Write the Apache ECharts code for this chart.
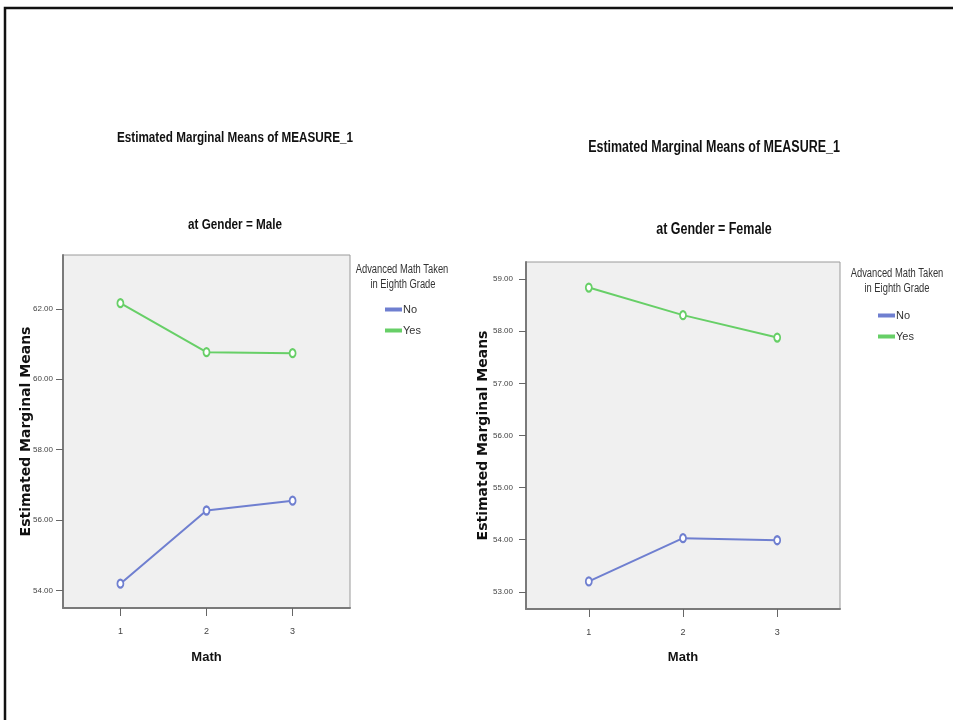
<!DOCTYPE html>
<html>
<head>
<meta charset="utf-8">
<script src="https://cdn.jsdelivr.net/npm/echarts@6/dist/echarts.min.js"></script>
<style>
  html, body { margin: 0; padding: 0; background: #fff; }
  #chart { width: 953px; height: 720px; }
</style>
</head>
<body>
<div id="chart"></div>
<script>
// Math levels on the x axis
const mathLevels = [1, 2, 3];
// Estimated marginal means, Male panel
const maleNo  = [54.19, 56.27, 56.55];
const maleYes = [62.16, 60.77, 60.74];
// Estimated marginal means, Female panel
const femaleNo  = [53.20, 54.03, 53.99];
const femaleYes = [58.84, 58.31, 57.88];
// Tick labels
const maleTicks = [54, 56, 58, 60, 62];
const femaleTicks = [53, 54, 55, 56, 57, 58, 59];

const BLUE = '#6f7fd0';
const GREEN = '#67cf67';
const SANS = "'Liberation Sans', Arial, sans-serif";
const NARROW_SCALE = 0.78;   // condensed look for the headings

const pairs = (ys) => mathLevels.map((x, i) => [x, ys[i]]);

function xAxis(gridIndex, gap) {
  return {
    type: 'value', gridIndex, min: 1/3, max: 11/3,
    name: 'Math', nameLocation: 'middle', nameGap: gap, nameMoveOverlap: false,
    nameTextStyle: { fontFamily: SANS, fontWeight: 'bold', fontSize: 13, color: '#111' },
    axisLine: { show: true, lineStyle: { color: '#7a7a7a', width: 2 } },
    axisTick: { show: true, customValues: mathLevels, length: 8, lineStyle: { color: '#666' } },
    axisLabel: { customValues: mathLevels, margin: 19, fontFamily: SANS, fontSize: 9, color: '#444' },
    splitLine: { show: false }
  };
}
function yAxis(gridIndex, min, max, ticks, gap, margin) {
  return {
    type: 'value', gridIndex, min, max,
    name: 'Estimated Marginal Means', nameLocation: 'middle', nameGap: gap, nameMoveOverlap: false,
    nameTextStyle: { fontFamily: "'DejaVu Sans', sans-serif", fontWeight: 'bold', fontSize: 14, color: '#111' },
    axisLine: { show: true, lineStyle: { color: '#7a7a7a', width: 2 } },
    axisTick: { show: true, customValues: ticks, length: 7, lineStyle: { color: '#666' } },
    axisLabel: { customValues: ticks, margin, fontFamily: SANS, fontSize: 8, color: '#444',
                 formatter: (v) => v.toFixed(2) },
    splitLine: { show: false }
  };
}
function line(name, data, color, xi) {
  return {
    type: 'line', name, data, xAxisIndex: xi, yAxisIndex: xi,
    symbol: 'emptyCircle', symbolSize: [6, 8],
    lineStyle: { color, width: 2 },
    itemStyle: { color, borderColor: color, borderWidth: 1.5 },
    emphasis: { disabled: true }, animation: false
  };
}
function legendBlock(left, top) {
  return {
    orient: 'vertical', left, top, itemGap: 10,
    itemWidth: 15, itemHeight: 2, icon: 'rect',
    selectedMode: false,
    data: [{ name: 'No', itemStyle: { color: BLUE } }, { name: 'Yes', itemStyle: { color: GREEN } }],
    textStyle: { fontFamily: SANS, fontSize: 11, color: '#333', padding: [0, 0, 0, -3] }
  };
}
function text(x, y, s, size, weight) {
  return { type: 'text', x, y, scaleX: NARROW_SCALE,
           style: { text: s, fontSize: size, fontWeight: weight, fontFamily: SANS,
                    fill: weight === 'bold' ? '#111' : '#333', textAlign: 'center', textVerticalAlign: 'middle' } };
}

const chart = echarts.init(document.getElementById('chart'), null, { renderer: 'canvas' });
chart.setOption({
  animation: false,
  backgroundColor: '#fff',
  grid: [
    { left: 63, top: 255, width: 287, height: 353, show: true, backgroundColor: '#f0f0f0', borderColor: '#9a9a9a', borderWidth: 1 },
    { left: 526, top: 262, width: 314, height: 347, show: true, backgroundColor: '#f0f0f0', borderColor: '#9a9a9a', borderWidth: 1 }
  ],
  xAxis: [xAxis(0, 43), xAxis(1, 42)],
  yAxis: [yAxis(0, 53.5, 63.53, maleTicks, 30, 10), yAxis(1, 52.67, 59.33, femaleTicks, 36, 13)],
  legend: [legendBlock(380, 299), legendBlock(873, 305)],
  series: [
    line('No', pairs(maleNo), BLUE, 0),
    line('Yes', pairs(maleYes), GREEN, 0),
    line('No', pairs(femaleNo), BLUE, 1),
    line('Yes', pairs(femaleYes), GREEN, 1)
  ],
  graphic: [
    { type: 'rect', shape: { x: 5, y: 8, width: 960, height: 730 }, style: { fill: 'none', stroke: '#111', lineWidth: 2.5 } },
    text(235, 138, 'Estimated Marginal Means of MEASURE_1', 15, 'bold'),
    text(235, 225, 'at Gender = Male', 15, 'bold'),
    text(714, 148, 'Estimated Marginal Means of MEASURE_1', 16, 'bold'),
    text(714, 230, 'at Gender = Female', 16, 'bold'),
    text(402, 270, 'Advanced Math Taken', 12, 'normal'),
    text(403, 285, 'in Eighth Grade', 12, 'normal'),
    text(897, 274, 'Advanced Math Taken', 12, 'normal'),
    text(897, 289, 'in Eighth Grade', 12, 'normal')
  ]
});
</script>
</body>
</html>
